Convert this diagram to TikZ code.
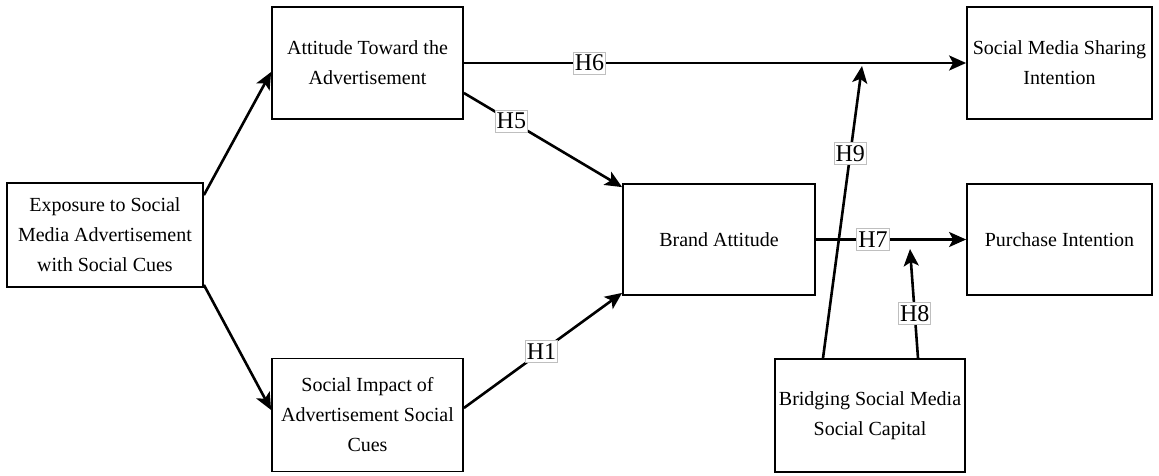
\documentclass[tikz,border=0pt]{standalone}
\usepackage{fontspec}
\setmainfont{Liberation Serif}
\usetikzlibrary{arrows.meta,positioning}
\begin{document}
\begin{tikzpicture}[x=1pt,y=-1pt,
  box/.style={draw,line width=1.8pt,rectangle,align=center,inner sep=0pt,font=\fontsize{20}{30}\selectfont},
  link/.style={line width=2.6pt,-{Stealth[length=17pt,width=15pt,inset=4pt]}},
  hyp/.style={fill=white,draw=black!25,line width=0.8pt,inner xsep=1.5pt,inner ysep=3pt,font=\fontsize{24}{24}\selectfont}]
\useasboundingbox (0,0) rectangle (1159,476);
\node[box,minimum width=196pt,minimum height=104pt] (expo) at (105,235) {Exposure to Social\\Media Advertisement\\with Social Cues};
\node[box,minimum width=191pt,minimum height=112pt] (att) at (367.5,63) {Attitude Toward the\\Advertisement};
\node[box,minimum width=191pt,minimum height=113pt] (soc) at (367.5,415) {Social Impact of\\Advertisement Social\\Cues};
\node[box,minimum width=192pt,minimum height=111pt] (brand) at (719,239.5) {Brand Attitude};
\node[box,minimum width=185pt,minimum height=112pt] (share) at (1059.5,63) {Social Media Sharing\\Intention};
\node[box,minimum width=185pt,minimum height=111pt] (purch) at (1059.5,239.5) {Purchase Intention};
\node[box,minimum width=190pt,minimum height=113pt] (bridge) at (870,415.5) {Bridging Social Media\\Social Capital};
\coordinate (m9) at (862,66);
\coordinate (m8) at (910,249);
\draw[link] ([yshift=-13pt]expo.north east) -- ([yshift=-9pt]att.west);
\draw[link] ([yshift=3pt]expo.south east) -- ([yshift=5pt]soc.west);
\draw[link] (att.east) -- (share.west) node[hyp,pos=0.25] {H6};
\draw[link] ([yshift=-30pt]att.east) -- ([yshift=-4pt]brand.north west) node[hyp,pos=0.3] {H5};
\draw[link] ([yshift=7pt]soc.east) -- ([yshift=3pt]brand.south west) node[hyp,pos=0.49] {H1};
\draw[link] (brand.east) -- (purch.west) node[hyp,pos=0.38] {H7};
\draw[link] ([xshift=-47pt]bridge.north) -- (m9) node[hyp,pos=0.7] {H9};
\draw[link] ([xshift=48pt]bridge.north) -- (m8) node[hyp,pos=0.41] {H8};
\end{tikzpicture}
\end{document}
